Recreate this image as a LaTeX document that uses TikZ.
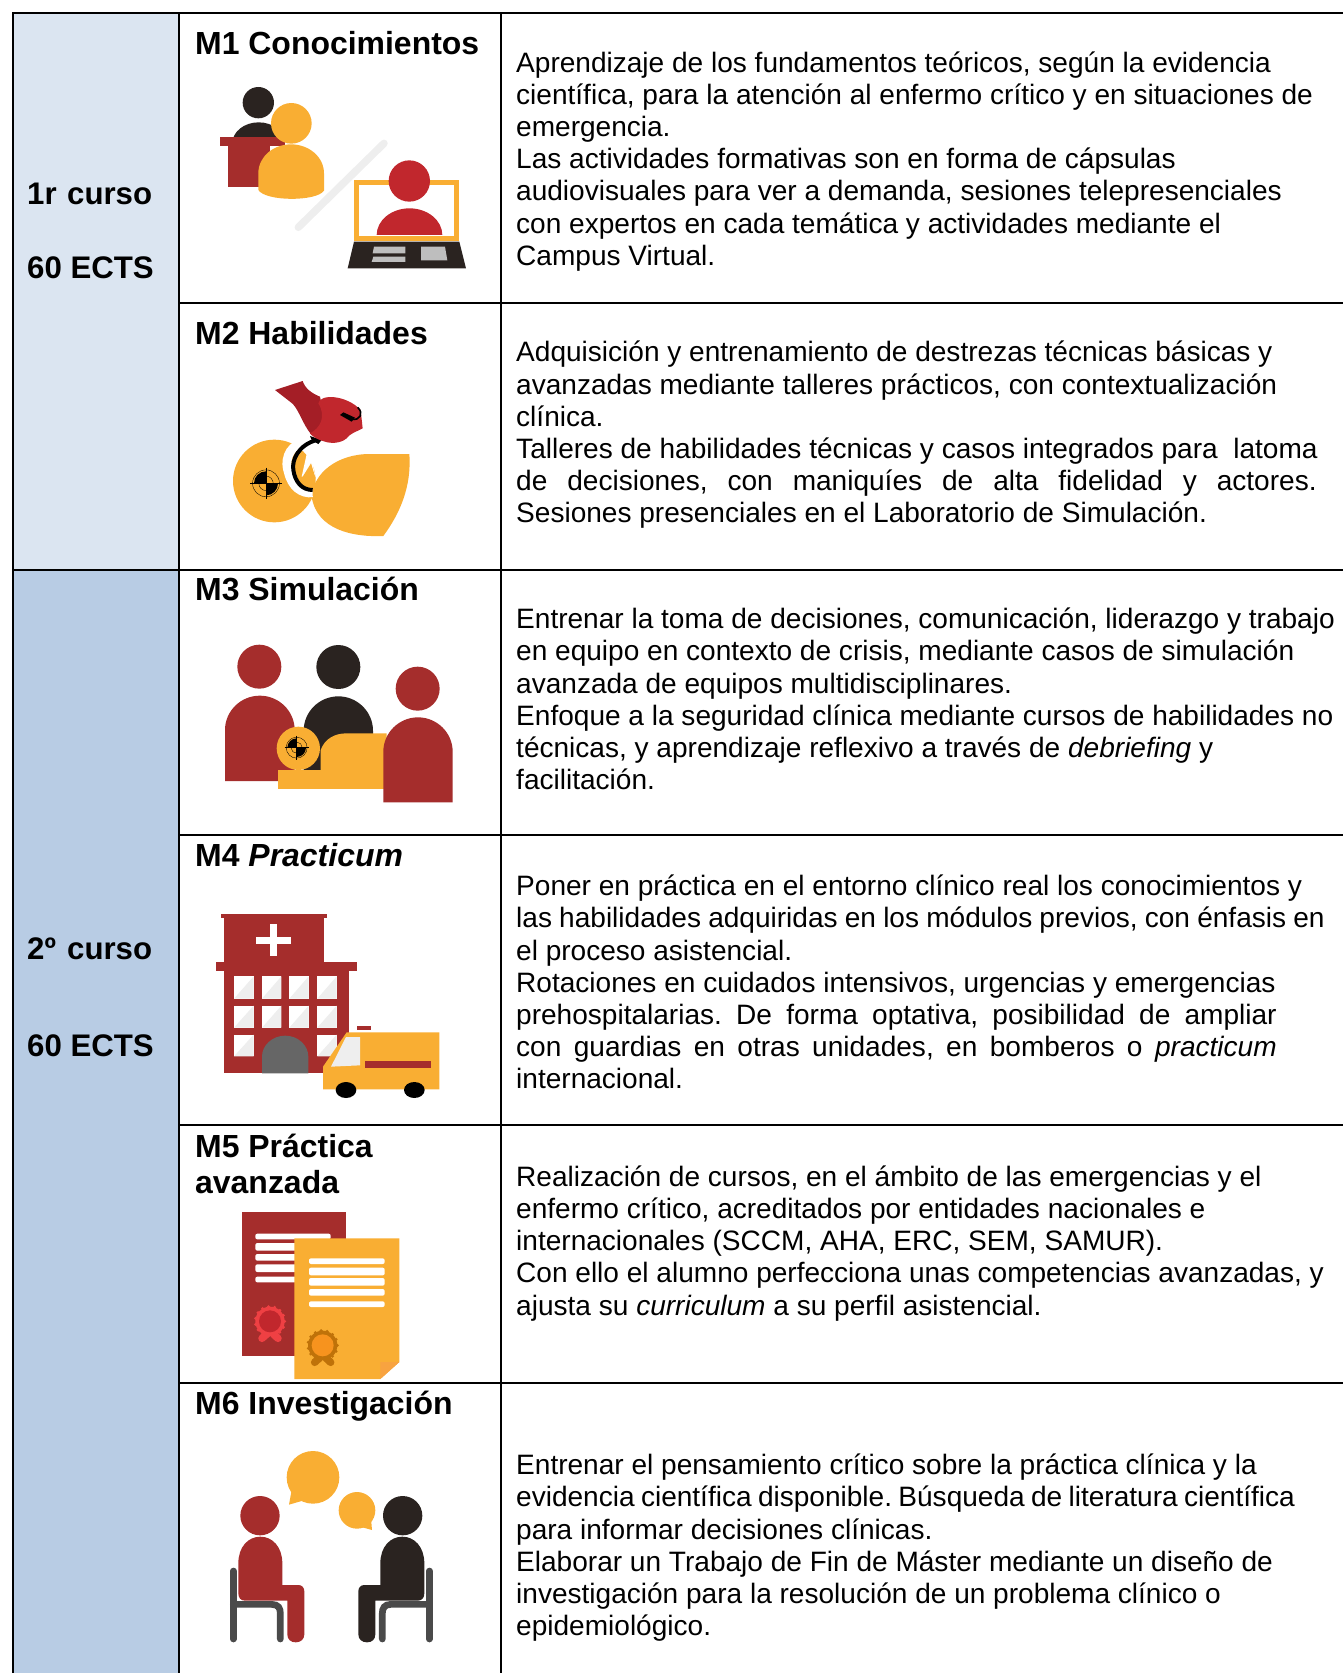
\documentclass[tikz,border=0pt]{standalone}
\usepackage{fontspec}
\setmainfont{Liberation Sans}
\definecolor{cellA}{HTML}{DBE5F1}
\definecolor{cellB}{HTML}{B8CCE4}
\definecolor{inkK}{HTML}{2A2320}
\definecolor{inkY}{HTML}{F9AE33}
\definecolor{inkR}{HTML}{A52D2C}
\definecolor{inkS}{HTML}{C1272D}
\definecolor{inkH}{HTML}{A41E26}
\definecolor{inkG}{HTML}{EEEEEE}
\definecolor{inkC}{HTML}{4A4A4A}
\definecolor{inkD}{HTML}{666666}
\definecolor{inkO}{HTML}{F7931E}
\definecolor{inkB}{HTML}{BF7209}
\definecolor{inkP}{HTML}{EF4043}
\tikzset{
  rulelines/.style={line width=2.8pt,black},
  bodytext/.style={anchor=west,align=left,inner sep=0pt,font=\fontsize{28.05}{32.2}\selectfont\frenchspacing},
  titletext/.style={anchor=base west,inner sep=0pt,font=\fontsize{31.95}{36}\selectfont\bfseries},
  yeartext/.style={anchor=base west,inner sep=0pt,font=\fontsize{31.2}{36}\selectfont\bfseries},
  icon/.style={x=0.33333pt,y=-0.33333pt}
}
\newcommand\bustb[6]{%
  \pgfmathsetmacro\xc{(#2+#3)/2}%
  \pgfmathsetmacro\ka{#5-0.55*(#5-#4)}%
  \pgfmathsetmacro\kb{0.55*(#3-#2)/2}%
  \fill[#1] (#2,#6) -- (#2,#5) .. controls (#2,\ka) and ({\xc-\kb},#4) .. (\xc,#4)
     .. controls ({\xc+\kb},#4) and (#3,\ka) .. (#3,#5) -- (#3,#6) -- cycle;}
\newcommand\targetmark[3]{%
  \begin{scope}[shift={(#1,#2)}]
    \fill[black] (0,0) -- (-#3,0) arc[start angle=180,end angle=270,radius=#3] -- cycle;
    \fill[black] (0,0) -- (#3,0) arc[start angle=0,end angle=90,radius=#3] -- cycle;
    \draw[black,line width=0.35pt] (0,0) circle[radius=#3*1.12];
    \draw[black,line width=0.35pt] (0,0) circle[radius=#3*0.6];
    \draw[black,line width=0.7pt] (-#3*1.3,0) -- (#3*1.3,0) (0,-#3*1.3) -- (0,#3*1.3);
  \end{scope}}
\newcommand\windowpane[4]{%
  \fill[white] (#1,#2) rectangle (#3,#4);
  \fill[inkG] (#3,#2) -- (#3,#4) -- (#1,#4) -- cycle;}
\newcommand\sealmark[6]{% x y outer inner ribbon/ring colour centre colour
  \begin{scope}[shift={(#1,#2)}]
    \draw[#5,line width=7.5pt,line cap=round] (-10,38) -- (-24,51) (10,38) -- (24,51);
    \fill[#5] (0,0) circle[radius=#3];
    \foreach \a in {0,24,...,336}{\fill[#5] (\a:#3) circle[radius=5];}
    \fill[#6] (0,0) circle[radius=#4];
  \end{scope}}
\newcommand\paperline[3]{\fill[white,rounded corners=2pt] (#1,#2) rectangle (#3);}
\newcommand\sitter[1]{%
  \draw[inkC,line width=6.7pt,line cap=round] (190,543) -- (190,747);
  \draw[inkC,line width=6.7pt,line cap=round] (190,643) -- (305,643) .. controls (325,643) and (331,655) .. (331,670) -- (331,747);
  \fill[#1] (270,377) circle[radius=59];
  \fill[#1] (205,610) -- (205,520) .. controls (205,470) and (235,440) .. (271,440)
    .. controls (307,440) and (337,470) .. (337,520) -- (337,585) -- (385,585)
    .. controls (396,585) and (403,593) .. (403,604) -- (403,733)
    .. controls (403,748) and (392,757) .. (377,757) .. controls (362,757) and (352,748) .. (352,733)
    -- (352,632) -- (225,632) .. controls (212,632) and (205,623) .. (205,610) -- cycle;}
\begin{document}
\begin{tikzpicture}[x=1pt,y=-1pt]
\useasboundingbox (0,0) rectangle (1343,1673);
% table
\fill[cellA] (13,13) rectangle (179,570);
\fill[cellB] (13,570) rectangle (179,1673);
\draw[rulelines] (1343,13) -- (13,13) -- (13,1673);
\draw[rulelines] (179,13) -- (179,1673) (501,13) -- (501,1673);
\draw[rulelines] (179,303) -- (1343,303);
\draw[rulelines] (13,570) -- (1343,570);
\draw[rulelines] (179,835) -- (1343,835);
\draw[rulelines] (179,1125) -- (1343,1125);
\draw[rulelines] (179,1383) -- (1343,1383);
% year labels
\node[yeartext] (y1a) at (27,204) {\makebox[125pt][s]{1r curso}};
\node[yeartext] (y1b) at (27,278) {60 ECTS};
\node[yeartext] (y2a) at (27,959) {\makebox[125pt][s]{2º curso}};
\node[yeartext] (y2b) at (27,1056) {60 ECTS};
% titles
\node[titletext] (t1) at (195,54) {M1 Conocimientos};
\node[titletext] (t2) at (195,344) {M2 Habilidades};
\node[titletext] (t3) at (195,600) {M3 Simulación};
\node[titletext] (t4) at (195,866) {M4 \textit{Practicum}};
\node[titletext] (t5a) at (195,1157) {M5 Práctica};
\node[titletext] (t5b) at (195,1193) {avanzada};
\node[titletext] (t6) at (195,1414) {M6 Investigación};
% body
\node[bodytext] (b1) at (516,161.2) {Aprendizaje de los fundamentos teóricos, según la evidencia\\
científica, para la atención al enfermo crítico y en situaciones de\\
emergencia.\\
Las actividades formativas son en forma de cápsulas\\
audiovisuales para ver a demanda, sesiones telepresenciales\\
con expertos en cada temática y actividades mediante el\\
Campus Virtual.};
\node[bodytext] (b2) at (516,435) {Adquisición y entrenamiento de destrezas técnicas básicas y\\
avanzadas mediante talleres prácticos, con contextualización\\
clínica.\\
Talleres de habilidades técnicas y casos integrados para\ \ latoma\\
\makebox[800.5pt][s]{de decisiones, con maniquíes de alta fidelidad y actores.}\\
Sesiones presenciales en el Laboratorio de Simulación.};
\node[bodytext] (b3) at (516,699) {Entrenar la toma de decisiones, comunicación, liderazgo y trabajo\\
en equipo en contexto de crisis, mediante casos de simulación\\
avanzada de equipos multidisciplinares.\\
Enfoque a la seguridad clínica mediante cursos de habilidades no\\
técnicas, y aprendizaje reflexivo a través de \textit{debriefing} y\\
facilitación.};
\node[bodytext] (b4) at (516,982) {Poner en práctica en el entorno clínico real los conocimientos y\\
\makebox[808.5pt][s]{las habilidades adquiridas en los módulos previos, con énfasis en}\\
el proceso asistencial.\\
Rotaciones en cuidados intensivos, urgencias y emergencias\\
\makebox[760.5pt][s]{prehospitalarias. De forma optativa, posibilidad de ampliar}\\
\makebox[760.5pt][s]{con guardias en otras unidades, en bomberos o \textit{practicum}}\\
internacional.};
\node[bodytext] (b5) at (516,1243.3) {Realización de cursos, en el ámbito de las emergencias y el\\
enfermo crítico, acreditados por entidades nacionales e\\
internacionales (SCCM, AHA, ERC, SEM, SAMUR).\\
Con ello el alumno perfecciona unas competencias avanzadas, y\\
ajusta su \textit{curriculum} a su perfil asistencial.};
\node[bodytext] (b6) at (516,1547.8) {Entrenar el pensamiento crítico sobre la práctica clínica y la\\
\makebox[778.7pt][s]{evidencia científica disponible. Búsqueda de literatura científica}\\
para informar decisiones clínicas.\\
Elaborar un Trabajo de Fin de Máster mediante un diseño de\\
investigación para la resolución de un problema clínico o\\
epidemiológico.};
% ---- M1 icon
\begin{scope}[shift={(170,0)},icon]
  \fill[inkK] (265,308) circle[radius=47];
  \bustb{inkK}{187}{345}{367}{430}{430}
  \fill[inkR] (150,412) rectangle (345,438);
  \fill[inkR] (175,438) rectangle (300,562);
  \fill[inkY] (364,370) circle[radius=61];
  \fill[inkY] (265,570) -- (265,520) .. controls (265,470) and (310,433) .. (363,433)
     .. controls (416,433) and (462,470) .. (462,520) -- (462,572)
     .. controls (440,605) and (287,605) .. (265,570) -- cycle;
  \draw[inkG,line width=7.5pt,line cap=round] (385,682) -- (642,430);
  \draw[inkY,line width=5pt] (560,548) rectangle (860,717);
  \fill[inkS] (718,543) circle[radius=62];
  \bustb{inkS}{620}{817}{625}{705}{705}
  \fill[inkK] (552,725) -- (868,725) -- (888,805) -- (533,805) -- cycle;
  \fill[inkG!80!black] (612,740) -- (706,740) -- (706,760) -- (608,760) -- cycle;
  \fill[inkG!80!black] (610,770) -- (706,770) -- (706,786) -- (605,786) -- cycle;
  \fill[inkG!80!black] (753,740) -- (825,740) -- (832,781) -- (753,781) -- cycle;
\end{scope}
% ---- M2 icon
\begin{scope}[shift={(170,300)},icon]
  \fill[inkY] (313,543) circle[radius=124];
  \fill[inkY] (425,590) .. controls (430,520) and (500,462) .. (600,462) -- (718,462)
     .. controls (725,560) and (690,640) .. (640,708)
     .. controls (550,712) and (440,690) .. (425,590) -- cycle;
  \draw[white,line width=9pt] (400,428) .. controls (350,440) and (345,490) .. (355,515)
     .. controls (365,560) and (395,582) .. (428,578);
  \fill[white] (415,440) -- (437,530) -- (395,530) -- cycle;
  \fill[inkY] (423,490) -- (437,535) -- (395,535) -- cycle;
  \draw[black,line width=4pt] (440,420) .. controls (385,435) and (365,480) .. (370,510)
     .. controls (375,545) and (395,570) .. (428,570);
  \targetmark{288}{550}{36}
  \fill[black] (420,408) -- (455,420) -- (445,432) -- (425,420) -- cycle;
  \fill[inkH] (315,270) -- (398,243) .. controls (405,265) and (425,280) .. (450,290)
     -- (470,380) -- (425,405) .. controls (395,370) and (385,320) .. (360,305) -- cycle;
  \fill[inkS] (445,310) .. controls (450,280) and (530,285) .. (572,330)
     -- (578,385) .. controls (560,395) and (540,400) .. (530,415)
     .. controls (510,432) and (480,430) .. (465,425)
     .. controls (445,420) and (430,412) .. (420,400)
     .. controls (450,385) and (470,350) .. (445,310) -- cycle;
  \draw[black,line width=1.6pt] (545,358) .. controls (570,362) and (582,340) .. (563,322);
  \fill[black] (510,345) -- (520,337) -- (555,353) -- (545,365) -- cycle;
\end{scope}
% ---- M3 icon
\begin{scope}[shift={(170,570)},icon]
  \fill[inkR] (268,290) circle[radius=66];
  \bustb{inkR}{165}{374}{377}{480}{633}
  \fill[inkK] (505,291) circle[radius=66];
  \bustb{inkK}{401}{609}{379}{482}{600}
  \fill[inkY] (452,600) -- (452,540) .. controls (465,505) and (495,490) .. (530,490) -- (650,490) -- (650,600) -- cycle;
  \fill[inkY] (324,600) rectangle (650,656);
  \fill[inkY] (385,535) circle[radius=65];
  \targetmark{380}{533}{28}
  \fill[inkR] (743,356) circle[radius=66];
  \bustb{inkR}{640}{848}{442}{545}{697}
\end{scope}
% ---- M4 icon
\begin{scope}[shift={(170,840)},icon]
  \fill[inkR] (153,221) rectangle (471,233);
  \fill[inkR] (163,233) rectangle (461,366);
  \fill[inkR] (139,366) rectangle (561,393);
  \fill[inkR] (161,393) rectangle (538,698);
  \fill[white] (259,291) rectangle (363,311);
  \fill[white] (299,251) rectangle (321,349);
  \foreach \xa/\xb in {192/251,276/334,358/416,442/500}{
    \windowpane{\xa}{409}{\xb}{476}
    \windowpane{\xa}{497}{\xb}{563}}
  \windowpane{192}{584}{251}{649}
  \windowpane{442}{584}{500}{649}
  \bustb{inkD}{276}{415}{587}{650}{700}
  \fill[inkR] (560,557) rectangle (604,569);
  \fill[inkY] (530,577) -- (808,577) -- (808,748) -- (459,748) -- (459,680) -- cycle;
  \fill[inkG] (528,591) -- (570,591) -- (570,676) -- (483,680) -- cycle;
  \fill[inkR] (585,663) rectangle (782,684);
  \fill[black] (528,750) ellipse[x radius=31,y radius=24];
  \fill[black] (733,750) ellipse[x radius=31,y radius=24];
\end{scope}
% ---- M5 icon
\begin{scope}[shift={(170,1130)},icon]
  \fill[inkR] (215,247) rectangle (529,677);
  \paperline{256}{311}{482,328}
  \paperline{256}{339}{482,362}
  \paperline{256}{372}{482,392}
  \paperline{256}{403}{482,426}
  \paperline{256}{440}{482,457}
  \sealmark{300}{574}{44}{33}{inkP}{inkS}
  \fill[inkY] (373,325) -- (688,325) -- (688,696) -- (631,747) -- (373,747) -- cycle;
  \fill[inkO!85!white] (631,747) -- (631,696) -- (688,696) -- cycle;
  \paperline{417}{385}{644,402}
  \paperline{417}{413}{644,436}
  \paperline{417}{444}{644,467}
  \paperline{417}{477}{644,497}
  \paperline{417}{514}{644,531}
  \sealmark{458}{646}{44}{33}{inkB}{inkO}
\end{scope}
% ---- M6 icon
\begin{scope}[shift={(170,1390)},icon]
  \sitter{inkR}
  \begin{scope}[shift={(968,0)},xscale=-1]
    \sitter{inkK}
  \end{scope}
  \fill[inkY] (429,262) circle[radius=79];
  \fill[inkY] (365,300) -- (357,344) -- (405,330) -- cycle;
  \fill[inkY] (561,361) circle[radius=55];
  \fill[inkY] (603,385) -- (606,420) -- (570,410) -- cycle;
\end{scope}
\end{tikzpicture}
\end{document}
